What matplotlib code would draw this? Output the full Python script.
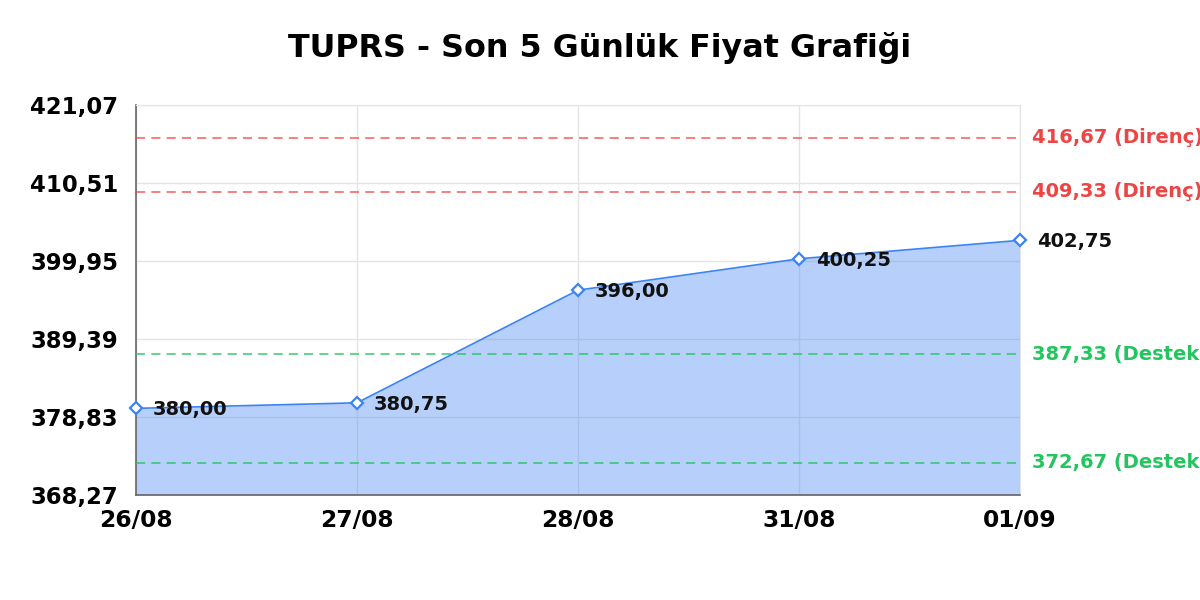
import matplotlib
matplotlib.use("Agg")
import matplotlib.pyplot as plt

plt.rcParams["font.family"] = ["DejaVu Sans"]

dates = ["26/08", "27/08", "28/08", "31/08", "01/09"]
prices = [380.00, 380.75, 396.00, 400.25, 402.75]
resistance = [416.67, 409.33]
support = [387.33, 372.67]
yticks = [368.27, 378.83, 389.39, 399.95, 410.51, 421.07]

def fmt(v):
    return f"{v:.2f}".replace(".", ",")

fig = plt.figure(figsize=(12, 6), dpi=100)
ax = fig.add_axes([136/1200, 105/600, (1020-136)/1200, (495-105)/600])

x = list(range(len(dates)))
blue = "#3b82f6"
ax.fill_between(x, prices, yticks[0], color=blue, alpha=0.37, linewidth=0, zorder=2)
ax.plot(x, prices, color=blue, linewidth=1.2, marker="D", markersize=6,
        markerfacecolor="white", markeredgecolor=blue, markeredgewidth=1.6, zorder=4, clip_on=False)

for xi, p in zip(x, prices):
    ax.annotate(fmt(p), (xi, p), xytext=(12, -1), textcoords="offset points",
                ha="left", va="center", fontsize=14, fontweight="bold", color="#111111", zorder=5)

red = "#ef4444"
green = "#22c55e"
for r in resistance:
    ax.axhline(r, color=red, linestyle=(0, (6, 4)), linewidth=1.1, alpha=0.85, zorder=3)
    ax.annotate(f"{fmt(r)} (Direnç)", (1, r), xycoords=("axes fraction", "data"),
                xytext=(9, 0), textcoords="offset points", ha="left", va="center",
                fontsize=14, fontweight="bold", color=red, annotation_clip=False)
for s in support:
    ax.axhline(s, color=green, linestyle=(0, (6, 4)), linewidth=1.1, alpha=0.9, zorder=3)
    ax.annotate(f"{fmt(s)} (Destek)", (1, s), xycoords=("axes fraction", "data"),
                xytext=(9, 0), textcoords="offset points", ha="left", va="center",
                fontsize=14, fontweight="bold", color=green, annotation_clip=False)

ax.set_xlim(0, len(dates) - 1)
ax.set_ylim(yticks[0], yticks[-1])
ax.set_xticks(x)
ax.set_xticklabels(dates, fontsize=16.8, fontweight="bold")
ax.set_yticks(yticks)
ax.set_yticklabels([fmt(v) for v in yticks], fontsize=16.4, fontweight="bold")
ax.tick_params(axis="y", length=0, pad=13)
ax.tick_params(axis="x", length=0, pad=10)
ax.grid(True, color="#e5e5e5", linewidth=1, zorder=1)
ax.set_axisbelow(True)
for side in ["top", "right"]:
    ax.spines[side].set_color("#e5e5e5")
for side in ["left", "bottom"]:
    ax.spines[side].set_color("#666666")
    ax.spines[side].set_linewidth(1.2)

fig.suptitle("TUPRS - Son 5 Günlük Fiyat Grafiği", fontsize=22.9, fontweight="bold", y=1-48/600, va="center")

fig.savefig("out.png", dpi=100)
